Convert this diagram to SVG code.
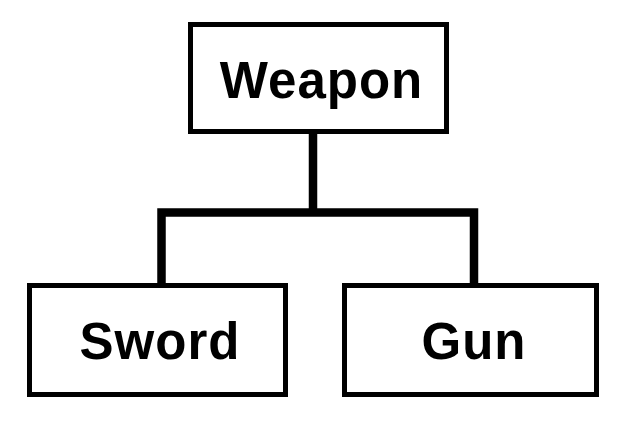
<svg xmlns="http://www.w3.org/2000/svg" width="632" height="422" viewBox="0 0 632 422">
<style>
.box{fill:#fff;stroke:#000;stroke-width:5}
.lbl{font-family:"Liberation Sans",Arial,sans-serif;font-weight:bold;font-size:51px;letter-spacing:1px;text-anchor:middle;fill:#000}
.edge{fill:none;stroke:#000;stroke-width:8.5;stroke-linejoin:miter;stroke-linecap:butt}
</style>
<rect width="632" height="422" fill="#fff"/>
<g id="connectors">
<path class="edge" d="M313,134 V212.5 M161.5,285 V212.5 H474 V285"/>
</g>
<g id="weapon">
<rect class="box" x="190.5" y="24.5" width="256" height="107"/>
<text class="lbl" x="321.5" y="98">Weapon</text>
</g>
<g id="sword">
<rect class="box" x="29.5" y="285.5" width="256" height="109"/>
<text class="lbl" x="160" y="359">Sword</text>
</g>
<g id="gun">
<rect class="box" x="344.5" y="285.5" width="252" height="109"/>
<text class="lbl" x="474" y="359">Gun</text>
</g>
</svg>
